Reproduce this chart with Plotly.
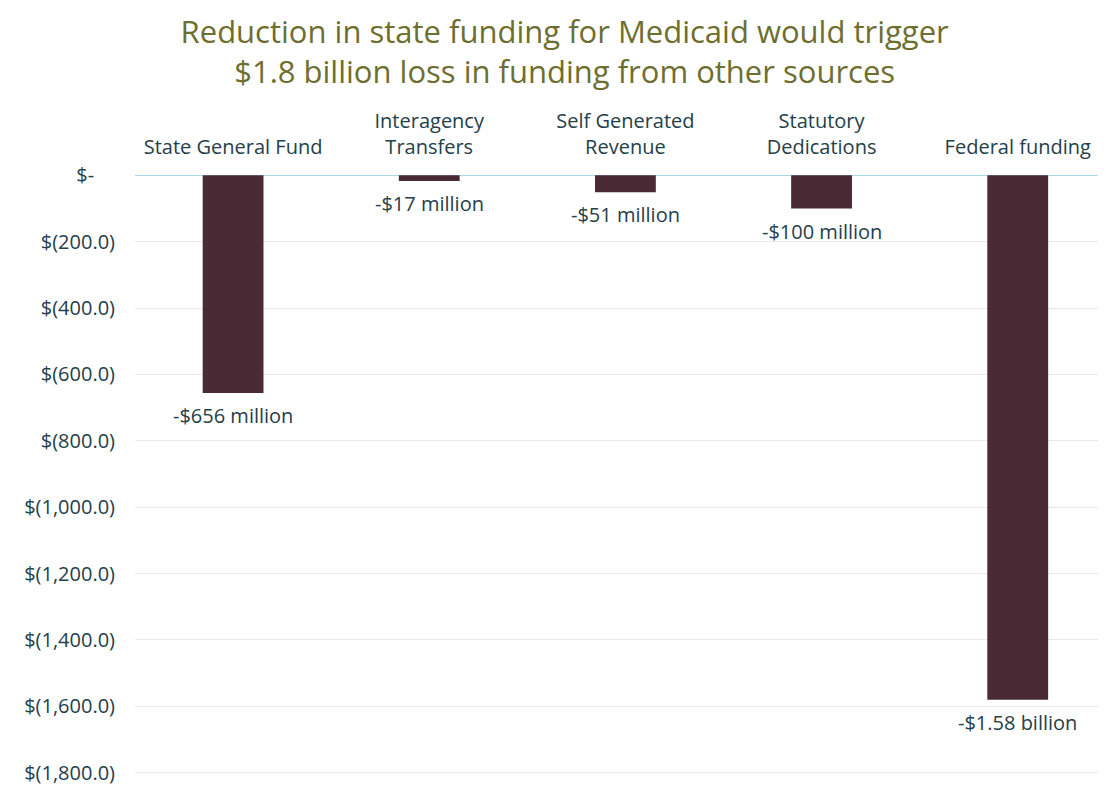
import plotly.graph_objects as go

categories = ["State General Fund", "Interagency Transfers", "Self Generated Revenue",
              "Statutory Dedications", "Federal funding"]
category_labels = ["State General Fund", "Interagency<br>Transfers", "Self Generated<br>Revenue",
                   "Statutory<br>Dedications", "Federal funding"]
values = [-656, -17, -51, -100, -1580]
value_labels = ["-$656 million", "-$17 million", "-$51 million", "-$100 million", "-$1.58 billion"]
y_tickvals = [0, -200, -400, -600, -800, -1000, -1200, -1400, -1600, -1800]
y_ticktext = ["$-" + "\u00a0" * 4, "$(200.0)", "$(400.0)", "$(600.0)", "$(800.0)", "$(1,000.0)",
              "$(1,200.0)", "$(1,400.0)", "$(1,600.0)", "$(1,800.0)"]

FONT = "Open Sans"
TEXT = "#24404a"
BAR = "#4a2a35"

fig = go.Figure()
fig.add_trace(go.Bar(x=categories, y=values, marker=dict(color=BAR, line=dict(width=0)),
                     width=0.31, hoverinfo="skip"))

for c, v, t in zip(categories, values, value_labels):
    fig.add_annotation(x=c, y=v, text=t, showarrow=False, yanchor="top", yshift=-7,
                       font=dict(family=FONT, size=20, color=TEXT))

# page has an 8px body margin, so the figure is shifted by 8px
fig.update_layout(
    width=1098, height=778,
    margin=dict(l=127, r=0, t=167, b=8),
    paper_bgcolor="white", plot_bgcolor="white",
    showlegend=False,
    title=dict(text="Reduction in state funding for Medicaid would trigger<br>$1.8 billion loss in funding from other sources",
               x=0.507, xanchor="center", y=0.955, yanchor="middle",
               font=dict(family=FONT, size=31, color="#6e6e2e")),
    xaxis=dict(type="category", side="top", range=[-0.5, 4.45],
               tickmode="array", tickvals=categories, ticktext=category_labels,
               ticks="", showgrid=False, showline=False, zeroline=False,
               ticklabelstandoff=16,
               tickfont=dict(family=FONT, size=20, color=TEXT)),
    yaxis=dict(range=[-1810, 1], tickmode="array", tickvals=y_tickvals, ticktext=y_ticktext,
               showgrid=True, gridcolor="#e9e9e9", gridwidth=1,
               zeroline=True, zerolinecolor="#aad8e6", zerolinewidth=1,
               showline=False, ticks="", ticklabelstandoff=19,
               ticklabeloverflow="allow",
               tickfont=dict(family=FONT, size=20, color=TEXT)),
)

fig.write_html("out.html")
